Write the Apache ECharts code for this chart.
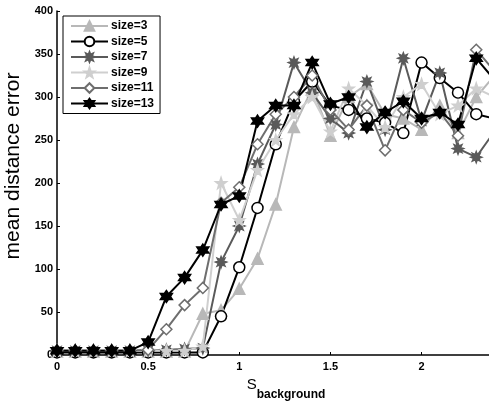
<!DOCTYPE html>
<html>
<head>
<meta charset="utf-8">
<script src="https://cdn.jsdelivr.net/npm/echarts@6/dist/echarts.min.js"></script>
<style>
  html, body { margin: 0; padding: 0; background: #fff; }
  #chart { width: 489px; height: 404px; }
</style>
</head>
<body>
<div id="chart"></div>
<script>
// S_background values, step 0.1
var xValues = [0, 0.1, 0.2, 0.3, 0.4, 0.5, 0.6, 0.7, 0.8, 0.9, 1.0, 1.1, 1.2, 1.3, 1.4, 1.5, 1.6, 1.7, 1.8, 1.9, 2.0, 2.1, 2.2, 2.3, 2.4];

// mean distance error for each window size
var size3  = [4, 4, 4, 4, 4, 4, 4, 4, 48, 52, 77, 112, 175, 265, 310, 255, 300, 315, 280, 275, 262, 290, 258, 300, 325];
var size5  = [3, 3, 3, 3, 3, 3, 3, 3, 3, 45, 102, 171, 245, 295, 318, 290, 285, 275, 270, 258, 340, 322, 305, 280, 275];
var size7  = [5, 5, 5, 5, 5, 5, 6, 7, 8, 108, 150, 222, 268, 340, 305, 275, 258, 318, 262, 345, 272, 328, 240, 230, 260];
var size9  = [5, 5, 5, 5, 5, 5, 5, 5, 10, 200, 157, 215, 250, 280, 300, 260, 310, 290, 265, 300, 315, 280, 290, 310, 300];
var size11 = [5, 5, 5, 5, 5, 6, 30, 58, 78, 177, 195, 245, 280, 300, 325, 285, 262, 290, 238, 285, 270, 282, 255, 355, 330];
var size13 = [5, 5, 5, 5, 5, 15, 68, 90, 122, 175, 185, 272, 290, 290, 340, 292, 300, 265, 282, 295, 275, 282, 268, 345, 320];

var seriesNames = ['size=3', 'size=5', 'size=7', 'size=9', 'size=11', 'size=13'];

var font = '"Liberation Sans", Arial, sans-serif';

// marker shapes
var asterisk8 = 'path://M0,-10 L2,-4.8 L7.07,-7.07 L4.8,-2 L10,0 L4.8,2 L7.07,7.07 L2,4.8 L0,10 L-2,4.8 L-7.07,7.07 L-4.8,2 L-10,0 L-4.8,-2 L-7.07,-7.07 L-2,-4.8 Z';
var pentagram = 'path://M0,-10 L2.35,-3.24 L9.51,-3.09 L3.8,1.24 L5.88,8.09 L0,4 L-5.88,8.09 L-3.8,1.24 L-9.51,-3.09 L-2.35,-3.24 Z';
var hexagram = 'path://M0,-10 L2.9,-5 L8.66,-5 L5.8,0 L8.66,5 L2.9,5 L0,10 L-2.9,5 L-8.66,5 L-5.8,0 L-8.66,-5 L-2.9,-5 Z';

function pairs(ys) {
  return xValues.map(function (x, i) { return [x, ys[i]]; });
}

function mkSeries(name, ys, color, symbol, size, fill) {
  return {
    name: name,
    type: 'line',
    data: pairs(ys),
    symbol: symbol,
    symbolSize: size,
    showAllSymbol: true,
    clip: true,
    lineStyle: { color: color, width: 2 },
    itemStyle: { color: fill || color, borderColor: color, borderWidth: 1.5 },
    emphasis: { disabled: true },
    animation: false
  };
}

var chart = echarts.init(document.getElementById('chart'), null, { renderer: 'canvas' });

var option = {
  backgroundColor: '#fff',
  animation: false,
  textStyle: { fontFamily: font },
  grid: { left: 57, right: 0, top: 11, bottom: 49, containLabel: false, outerBoundsMode: 'none' },
  legend: {
    data: seriesNames,
    orient: 'vertical',
    left: 63,
    top: 16,
    padding: [4, 6, 4, 7],
    itemWidth: 37,
    itemHeight: 12,
    itemGap: 3.5,
    borderColor: '#000',
    borderWidth: 1,
    backgroundColor: '#fff',
    textStyle: { color: '#000', fontSize: 12, fontWeight: 'bold', padding: [0, 0, 0, -2] }
  },
  xAxis: {
    type: 'value',
    min: 0,
    max: 2.37,
    interval: 0.5,
    name: '{s|S}{sub|background}',
    nameLocation: 'middle',
    nameGap: 5,
    nameTextStyle: {
      padding: [0, 0, 0, 26],
      rich: {
        s: { fontSize: 15, color: '#000', fontFamily: font },
        sub: { fontSize: 12, color: '#000', fontWeight: 'bold', padding: [20, 0, 0, 0], fontFamily: font }
      }
    },
    axisLine: { lineStyle: { color: '#000', width: 1.5 } },
    axisTick: { inside: true, length: 3, lineStyle: { color: '#000' } },
    axisLabel: { color: '#000', fontSize: 11, fontWeight: 'bold', margin: 6, showMaxLabel: false },
    splitLine: { show: false }
  },
  yAxis: {
    type: 'value',
    min: 0,
    max: 400,
    interval: 50,
    name: 'mean distance error',
    nameLocation: 'middle',
    nameGap: 25,
    nameTextStyle: { color: '#000', fontSize: 21, padding: [0, 0, 0, 34] },
    axisLine: { show: true, lineStyle: { color: '#000', width: 1.5 } },
    axisTick: { show: true, inside: true, length: 3, lineStyle: { color: '#000' } },
    axisLabel: { color: '#000', fontSize: 11, fontWeight: 'bold', margin: 4 },
    splitLine: { show: false }
  },
  series: [
    mkSeries('size=3', size3, '#b8b8b8', 'triangle', 11),
    mkSeries('size=5', size5, '#000', 'circle', 11, '#fff'),
    mkSeries('size=7', size7, '#5a5a5a', asterisk8, 11),
    mkSeries('size=9', size9, '#cfcfcf', pentagram, 11),
    mkSeries('size=11', size11, '#6e6e6e', 'diamond', 11, '#fff'),
    mkSeries('size=13', size13, '#000', hexagram, 12)
  ]
};

chart.setOption(option);
</script>
</body>
</html>
